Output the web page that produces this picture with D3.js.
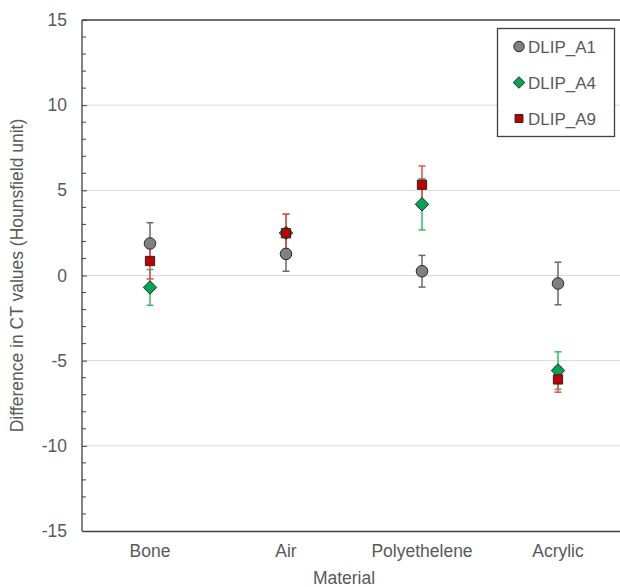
<!DOCTYPE html>
<html><head><meta charset="utf-8">
<script src="https://cdn.jsdelivr.net/npm/d3@7"></script>
<style>body{margin:0;background:#fff}svg{display:block;font-family:"Liberation Sans",Arial,sans-serif}</style>
</head><body><svg id="c" width="620" height="587"></svg>
<script>
const categories = ["Bone","Air","Polyethelene","Acrylic"];
const seriesNames = ["DLIP_A1","DLIP_A4","DLIP_A9"];
const a1 = [1.88, 1.27, 0.25, -0.47];
const a1Err = [1.22, 1.02, 0.93, 1.25];
const a4 = [-0.7, 2.5, 4.18, -5.58];
const a4Err = [1.05, 1.1, 1.5, 1.1];
const a9 = [0.85, 2.48, 5.33, -6.1];
const a9Err = [1.05, 1.12, 1.1, 0.75];
const yTicks = [-15,-10,-5,0,5,10,15];

(function(){
const svg = d3.select("#c");
const pL = 82, pR = 626, pT = 20, pB = 531;
const x = d3.scaleBand().domain(categories).range([pL, pR]);
const y = d3.scaleLinear().domain([-15, 15]).range([pB, pT]);
const txt = "#595959";

// gridlines
svg.append("g").selectAll("line").data(yTicks.filter(t => t > -15 && t < 15)).join("line")
  .attr("x1", pL).attr("x2", pR).attr("y1", d => y(d)).attr("y2", d => y(d))
  .attr("stroke", "#d9d9d9").attr("stroke-width", 1);

// minor ticks
const minor = d3.range(-14, 15, 1).filter(v => v % 5 !== 0);
svg.append("g").selectAll("line").data(minor).join("line")
  .attr("x1", pL).attr("x2", pL + 4).attr("y1", d => y(d)).attr("y2", d => y(d))
  .attr("stroke", "#404040").attr("stroke-width", 1);

// y axis
const yAxis = d3.axisLeft(y).tickValues(yTicks).tickSize(-5).tickPadding(15).tickFormat(d => String(d));
const gy = svg.append("g").attr("transform", `translate(${pL},0)`).call(yAxis);
gy.select(".domain").remove();
gy.selectAll(".tick line").attr("stroke", "#404040");
gy.selectAll(".tick text").attr("fill", txt).style("font-size", "17.5px").style("font-family", '"Liberation Sans",Arial,sans-serif');
svg.append("line").attr("x1", pL).attr("x2", pL).attr("y1", pT).attr("y2", pB).attr("stroke", "#404040").attr("stroke-width", 1.3);
svg.append("line").attr("x1", pL).attr("x2", pR).attr("y1", pT).attr("y2", pT).attr("stroke", "#404040").attr("stroke-width", 1.3);

// x axis
const xAxis = d3.axisBottom(x).tickSize(0).tickPadding(14);
const gx = svg.append("g").attr("transform", `translate(0,${pB})`).call(xAxis);
gx.select(".domain").attr("stroke", "#404040").attr("stroke-width", 1.3);
gx.selectAll(".tick text").attr("fill", txt).style("font-size", "17.5px").style("font-family", '"Liberation Sans",Arial,sans-serif');

// axis titles
svg.append("text").attr("x", (pL + 606) / 2).attr("y", 584).attr("text-anchor", "middle")
  .attr("fill", txt).style("font-size", "17.5px").text("Material");
svg.append("text").attr("transform", `translate(23,${(pT + pB) / 2}) rotate(-90)`).attr("text-anchor", "middle")
  .attr("fill", txt).style("font-size", "17.5px").text("Difference in CT values (Hounsfield unit)");

const series = [
  {name: seriesNames[0], vals: a1, err: a1Err, fill: "#808080", errColor: "#6a6a6a", shape: d3.symbolCircle, size: 105, lsize: 85},
  {name: seriesNames[1], vals: a4, err: a4Err, fill: "#00a651", errColor: "#33bb66", shape: d3.symbolDiamond2, size: 115, lsize: 85},
  {name: seriesNames[2], vals: a9, err: a9Err, fill: "#c00000", errColor: "#f04848", shape: d3.symbolSquare2, size: 110, lsize: 80}
];
const cx = c => x(c) + x.bandwidth() / 2;

// error bars
series.forEach(s => {
  const g = svg.append("g").attr("stroke", s.errColor).attr("stroke-width", 1.5);
  categories.forEach((c, i) => {
    const v = s.vals[i], e = s.err[i];
    g.append("line").attr("x1", cx(c)).attr("x2", cx(c)).attr("y1", y(v - e)).attr("y2", y(v + e));
    [v - e, v + e].forEach(t => g.append("line").attr("x1", cx(c) - 3.5).attr("x2", cx(c) + 3.5).attr("y1", y(t)).attr("y2", y(t)));
  });
});

// markers
series.forEach(s => {
  svg.append("g").selectAll("path").data(categories).join("path")
    .attr("transform", (c, i) => `translate(${cx(c)},${y(s.vals[i])})`)
    .attr("d", d3.symbol().type(s.shape).size(s.size))
    .attr("fill", s.fill).attr("stroke", "#262626").attr("stroke-width", 1);
});

// legend
const lg = svg.append("g");
lg.append("rect").attr("x", 497.5).attr("y", 28.5).attr("width", 117).attr("height", 108)
  .attr("fill", "#fff").attr("stroke", "#404040").attr("stroke-width", 1.3);
series.forEach((s, i) => {
  const yy = 46.5 + i * 36;
  lg.append("path").attr("transform", `translate(519,${yy})`)
    .attr("d", d3.symbol().type(s.shape).size(s.lsize))
    .attr("fill", s.fill).attr("stroke", "#262626").attr("stroke-width", 1);
  lg.append("text").attr("x", 528).attr("y", yy + 6).attr("fill", txt).style("font-size", "17px").text(s.name);
});
})();
</script></body></html>
